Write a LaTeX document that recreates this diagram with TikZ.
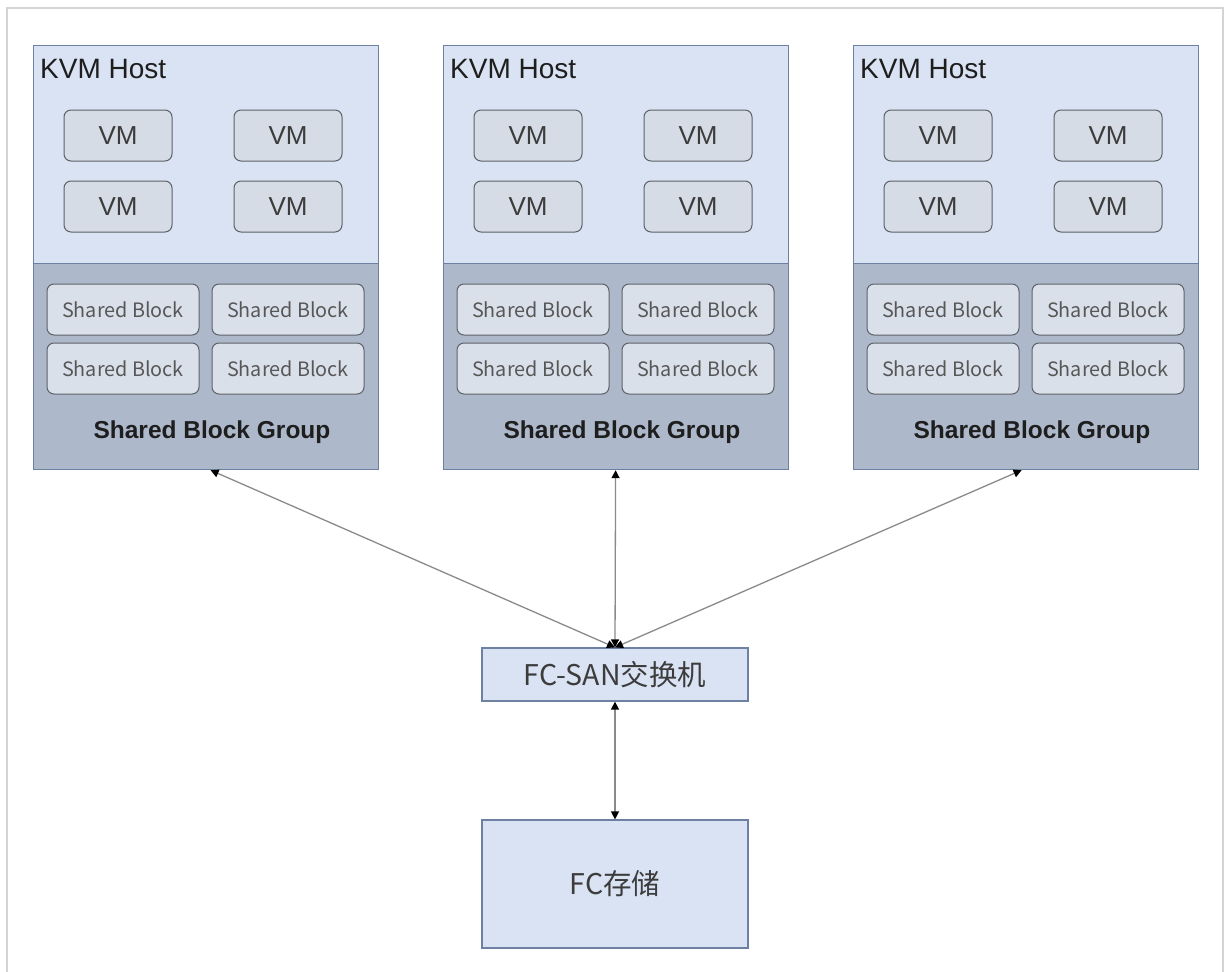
\documentclass[tikz,border=0pt]{standalone}
\usepackage{fontspec}
\setmainfont{Liberation Sans}
\newfontfamily\cjk{Noto Sans CJK SC}
\usetikzlibrary{arrows.meta}
\definecolor{hostfill}{HTML}{DAE3F3}
\definecolor{hostdraw}{HTML}{6F81A2}
\definecolor{grpfill}{HTML}{ADB9CA}
\definecolor{vmfill}{HTML}{D6DCE5}
\definecolor{vmdraw}{HTML}{5E6268}
\definecolor{sbfill}{HTML}{DAE0EA}
\definecolor{framec}{HTML}{D4D4D4}
\definecolor{linec}{HTML}{8A8A8A}
\definecolor{txtdark}{HTML}{1E1E1E}
\definecolor{txtvm}{HTML}{3C3C3C}
\definecolor{txtsb}{HTML}{575757}
\tikzset{
  hosttop/.style={draw=hostdraw, line width=1.2pt, fill=hostfill, minimum width=345pt, minimum height=218pt, inner sep=0pt},
  hostgrp/.style={draw=hostdraw, line width=1.2pt, fill=grpfill, minimum width=345pt, minimum height=206pt, inner sep=0pt},
  vmbox/.style={draw=vmdraw, line width=1pt, fill=vmfill, rounded corners=7pt, minimum width=108pt, minimum height=51pt, inner sep=0pt, font=\fontsize{26}{28}\selectfont, text=txtvm},
  sbbox/.style={draw=vmdraw, line width=1pt, fill=sbfill, rounded corners=7pt, minimum width=152pt, minimum height=51pt, inner sep=0pt, font=\cjk\fontsize{19.8}{22}\selectfont, text=txtsb},
  hostlabel/.style={anchor=base west, inner sep=0pt, font=\fontsize{28}{30}\selectfont, text=txtdark},
  grplabel/.style={inner sep=0pt, font=\bfseries\fontsize{24.5}{27}\selectfont, text=txtdark},
  plainbox/.style={draw=hostdraw, line width=1.2pt, fill=hostfill, minimum width=266pt, inner sep=0pt, font=\cjk\fontsize{28.5}{30}\selectfont, text=txtvm},
  conn/.style={draw=linec, line width=1.3pt, {Triangle[width=8pt,length=8pt,color=black]}-{Triangle[width=8pt,length=8pt,color=black]}}
}
\begin{document}
\begin{tikzpicture}[x=1pt,y=-1pt]
\useasboundingbox (0,0) rectangle (1224,972);
\draw[framec, line width=1.2pt] (7,975) -- (7,8) -- (1223,8) -- (1223,975);
\foreach \i/\dx in {A/0,B/410,C/820}{
  \node[hosttop, anchor=north west] (top\i) at (33+\dx,45) {};
  \node[hostgrp, anchor=north west] (grp\i) at (33+\dx,263) {};
  \node[hostlabel] (lab\i) at (40+\dx,78) {KVM Host};
  \node[vmbox] (vm\i1) at (118+\dx,135.5) {VM};
  \node[vmbox] (vm\i2) at (288+\dx,135.5) {VM};
  \node[vmbox] (vm\i3) at (118+\dx,206.5) {VM};
  \node[vmbox] (vm\i4) at (288+\dx,206.5) {VM};
  \node[sbbox] (sb\i1) at (123+\dx,309.5) {Shared Block};
  \node[sbbox] (sb\i2) at (288+\dx,309.5) {Shared Block};
  \node[sbbox] (sb\i3) at (123+\dx,368.5) {Shared Block};
  \node[sbbox] (sb\i4) at (288+\dx,368.5) {Shared Block};
  \node[grplabel] (gl\i) at (212+\dx,432) {Shared Block Group};
}
\node[plainbox, minimum height=53pt] (sw) at (615,674.5) {FC-SAN交换机};
\node[plainbox, minimum height=128pt] (st) at (615,884) {FC存储};
\draw[conn] ([xshift=4.5pt]grpA.south) -- (sw.north);
\draw[conn] ([xshift=-0.5pt]grpB.south) -- (sw.north);
\draw[conn] ([xshift=-4.5pt]grpC.south) -- (sw.north);
\draw[conn] (sw.south) -- (st.north);
\end{tikzpicture}
\end{document}
